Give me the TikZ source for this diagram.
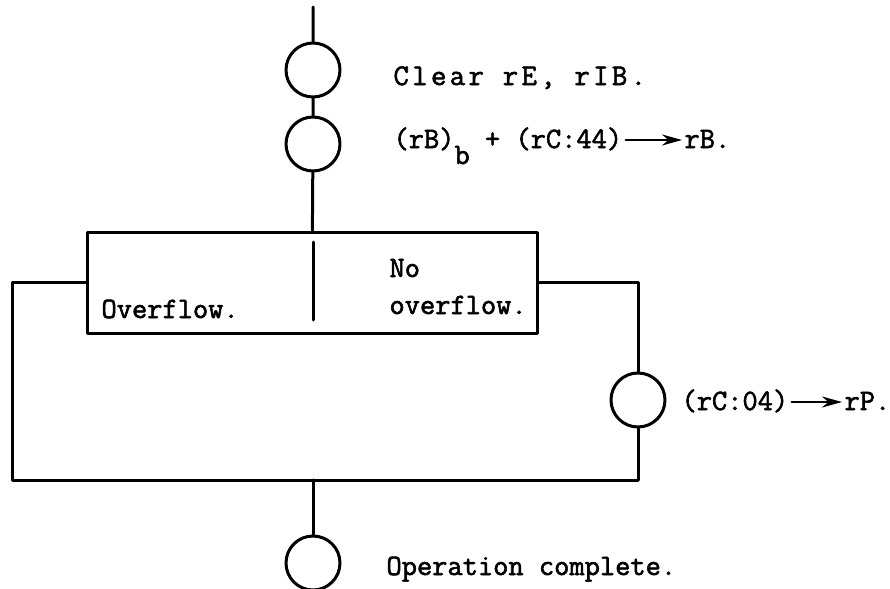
\documentclass[tikz,border=0pt]{standalone}
\usepackage{fontspec}
\newfontfamily\typefont{Latin Modern Mono}[AutoFakeBold=2]
\newfontfamily\widefont{Latin Modern Mono}[AutoFakeBold=2,LetterSpace=11]
\usetikzlibrary{arrows.meta}

\begin{document}
\begin{tikzpicture}[x=0.5pt,y=-0.5pt,line join=round,line cap=round,line width=1.5pt,
	stage/.style={circle,draw,minimum size=27pt,inner sep=0pt},
	note/.style={anchor=base west,inner sep=0pt,font=\typefont\bfseries\fontsize{14.8}{17}\selectfont},
	flow/.style={line width=1.2pt,-{Stealth[length=10pt,width=5.5pt]}}]
	\useasboundingbox (0,0) rectangle (890,589);
	% main line and the overflow test
	\coordinate (top) at (313,7);
	\node[stage] (clr) at (313,70) {};
	\node[stage] (add) at (313,144) {};
	\node[draw,minimum width=225pt,minimum height=50.5pt,inner sep=0pt] (test) at (312,282.5) {};
	\draw (313,242) -- (313,320);
	\node[stage] (load) at (638,400) {};
	\node[stage] (done) at (313,563) {};
	\coordinate (lft) at (12,480);
	\coordinate (rgt) at (638,480);
	\coordinate (join) at (313,480);
	\draw (top) -- (clr) -- (add) -- (test);
	\draw (test.west) -| (lft) -- (rgt);
	\draw (test.east) -| (load) -- (rgt);
	\draw (join) -- (done);
	% texts
	\node[note,font=\widefont\bfseries\fontsize{15}{17}\selectfont] (clrtxt) at (392,85) {Clear rE, rIB.};
	\node[note] (addtxt) at (392,148) {(rB)\raisebox{-8pt}{b} + (rC:44)};
	\node[note] (addto) at (683,148) {rB.};
	\draw[flow] ([shift={(1pt,4pt)}]addtxt.base east) -- ([shift={(-.5pt,4pt)}]addto.base west);
	\node[note] (yes) at (100,318) {Overflow.};
	\node[note] (no) at (388,277) {No};
	\node[note] (notxt) at (388,314) {overflow.};
	\node[note] (loadtxt) at (680,410) {(rC:04)};
	\node[note] (loadto) at (843,410) {rP.};
	\draw[flow] ([shift={(1pt,4pt)}]loadtxt.base east) -- ([shift={(-.5pt,4pt)}]loadto.base west);
	\node[note] (donetxt) at (385,575) {Operation complete.};
\end{tikzpicture}
\end{document}
